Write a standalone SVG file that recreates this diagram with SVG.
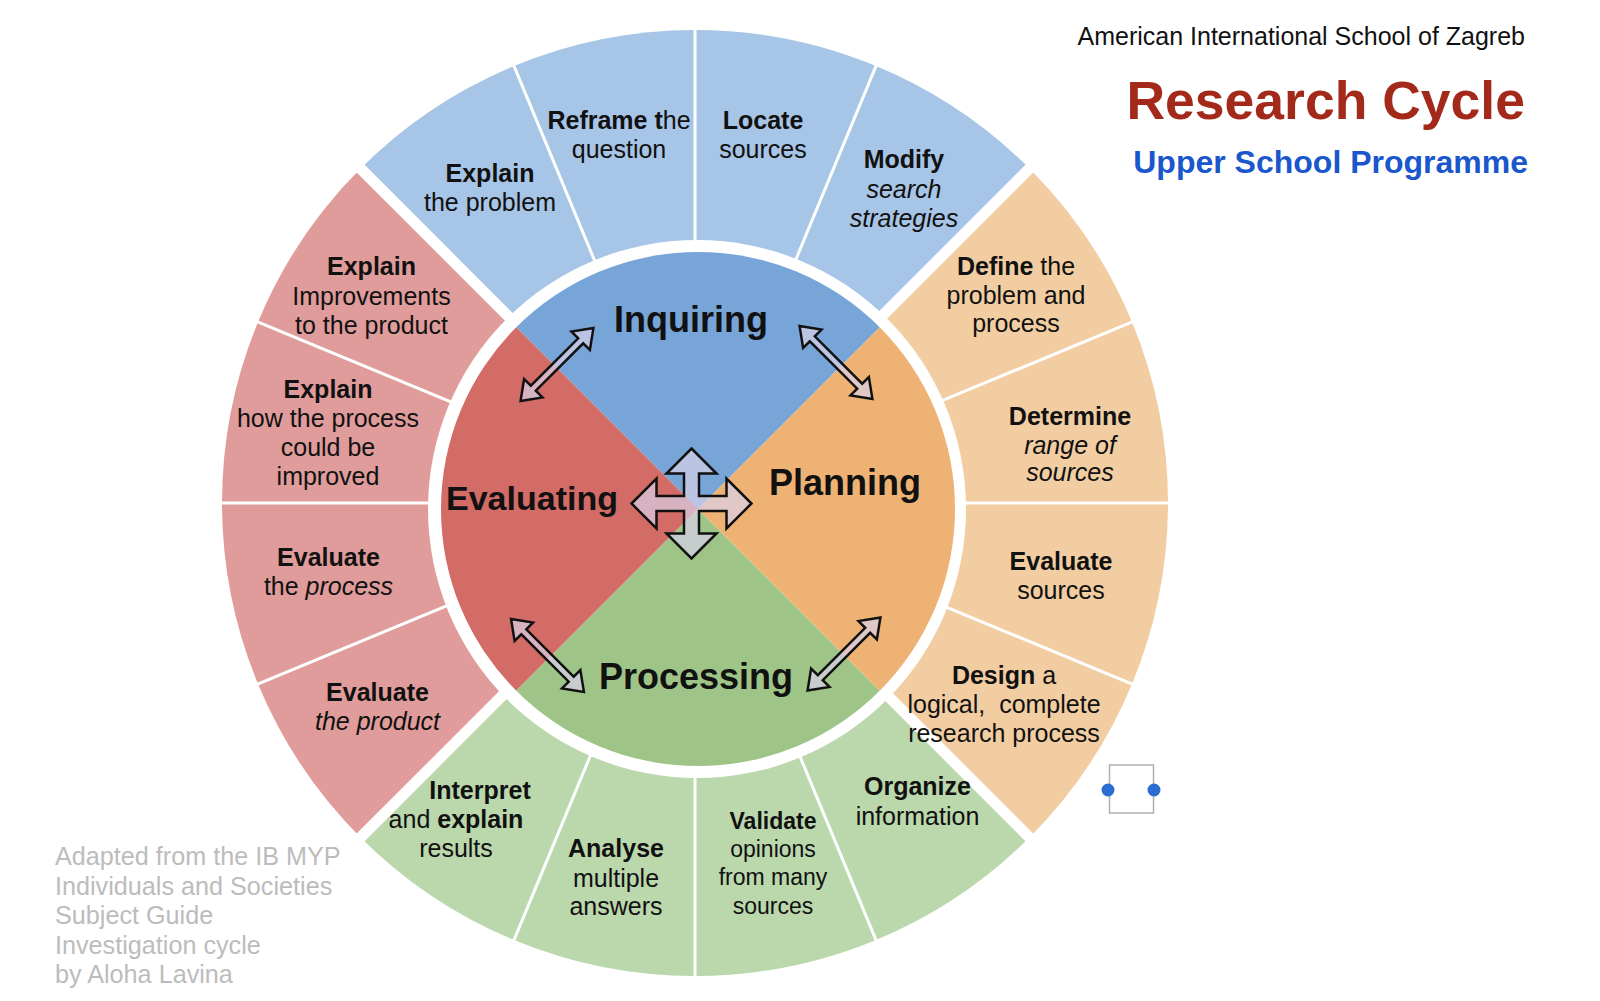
<svg xmlns="http://www.w3.org/2000/svg" width="1600" height="1001" viewBox="0 0 1600 1001">
<style>
.t{font-family:"Liberation Sans",Arial,Helvetica,sans-serif;font-size:25px;fill:#111;text-anchor:middle}
.b{font-weight:bold}
.i{font-style:italic}
.q{font-family:"Liberation Sans",Arial,Helvetica,sans-serif;font-size:36px;font-weight:bold;fill:#111;text-anchor:middle}
.g{font-family:"Liberation Sans",Arial,Helvetica,sans-serif;font-size:25.2px;fill:#bcbcbc}
.ob{fill:#a7c5e6}.or{fill:#e09c9b}.oo{fill:#f2cda2}.og{fill:#bbd7ac}
.ib{fill:#78a5d8}.ir{fill:#d36b66}.io{fill:#eeb274}.ig{fill:#9fc487}
.arr{fill:#d9d2e9;fill-opacity:.7;stroke:#111;stroke-width:2.5;stroke-linejoin:miter}
</style>
<defs>
<mask id="ringMask" maskUnits="userSpaceOnUse" x="0" y="0" width="1600" height="1001">
<rect width="1600" height="1001" fill="#fff"/>
<g stroke="#000" stroke-width="11">
<line x1="352" y1="846" x2="1038" y2="160"/>
<line x1="352" y1="160" x2="1038" y2="846"/>
</g>
<g stroke="#000" stroke-width="3">
<line x1="210" y1="503" x2="1180" y2="503"/>
<line x1="695" y1="18" x2="695" y2="988"/>
<line x1="1143.1" y1="317.4" x2="246.9" y2="688.6"/>
<line x1="880.6" y1="54.9" x2="509.4" y2="951.1"/>
<line x1="509.4" y1="54.9" x2="880.6" y2="951.1"/>
<line x1="246.9" y1="317.4" x2="1143.1" y2="688.6"/>
</g>
<circle cx="697" cy="509" r="269" fill="#000"/>
</mask>
<path id="dbl" d="M-51.5 0 L-33.5 -13 L-33.5 -3.5 L33.5 -3.5 L33.5 -13 L51.5 0 L33.5 13 L33.5 3.5 L-33.5 3.5 L-33.5 13 Z"/>
</defs>
<rect width="1600" height="1001" fill="#fff"/>

<g id="title">
<text x="1525" y="44.5" style="font-family:'Liberation Sans',Arial,sans-serif;font-size:25px;fill:#111;text-anchor:end">American International School of Zagreb</text>
<text x="1525" y="119" style="font-family:'Liberation Sans',Arial,sans-serif;font-size:53.5px;font-weight:bold;fill:#a3291a;text-anchor:end">Research Cycle</text>
<text x="1528" y="172.5" style="font-family:'Liberation Sans',Arial,sans-serif;font-size:32px;font-weight:bold;fill:#1a56cc;text-anchor:end">Upper School Programme</text>
</g>

<g id="credit">
<text class="g" x="55" y="865">Adapted from the IB MYP</text>
<text class="g" x="55" y="894.5">Individuals and Societies</text>
<text class="g" x="55" y="924">Subject Guide</text>
<text class="g" x="55" y="953.5">Investigation cycle</text>
<text class="g" x="55" y="983">by Aloha Lavina</text>
</g>

<!-- Inquiring outer segments -->
<g id="seg-modify">
<path class="ob" mask="url(#ringMask)" d="M695 503 L1029.46 168.54 A473 473 0 0 0 876.01 66.01 Z"/>
<text class="t"><tspan class="b" x="904" y="168">Modify</tspan><tspan class="i" x="904" y="197.5">search</tspan><tspan class="i" x="904" y="226.5">strategies</tspan></text>
</g>
<g id="seg-locate">
<path class="ob" mask="url(#ringMask)" d="M695 503 L876.01 66.01 A473 473 0 0 0 695 30 Z"/>
<text class="t"><tspan class="b" x="763" y="128.5">Locate</tspan><tspan x="763" y="158">sources</tspan></text>
</g>
<g id="seg-reframe">
<path class="ob" mask="url(#ringMask)" d="M695 503 L695 30 A473 473 0 0 0 513.99 66.01 Z"/>
<text class="t"><tspan x="619" y="128.5"><tspan class="b">Reframe t</tspan>he</tspan><tspan x="619" y="158">question</tspan></text>
</g>
<g id="seg-explain-problem">
<path class="ob" mask="url(#ringMask)" d="M695 503 L513.99 66.01 A473 473 0 0 0 360.54 168.54 Z"/>
<text class="t"><tspan class="b" x="490" y="181.5">Explain</tspan><tspan x="490" y="210.5">the problem</tspan></text>
</g>

<!-- Evaluating outer segments -->
<g id="seg-explain-improvements">
<path class="or" mask="url(#ringMask)" d="M695 503 L360.54 168.54 A473 473 0 0 0 258.01 321.99 Z"/>
<text class="t"><tspan class="b" x="371.5" y="275">Explain</tspan><tspan x="371.5" y="304.5">Improvements</tspan><tspan x="371.5" y="334">to the product</tspan></text>
</g>
<g id="seg-explain-process">
<path class="or" mask="url(#ringMask)" d="M695 503 L258.01 321.99 A473 473 0 0 0 222 503 Z"/>
<text class="t"><tspan class="b" x="328" y="397.5">Explain</tspan><tspan x="328" y="426.5">how the process</tspan><tspan x="328" y="456">could be</tspan><tspan x="328" y="485">improved</tspan></text>
</g>
<g id="seg-evaluate-process">
<path class="or" mask="url(#ringMask)" d="M695 503 L222 503 A473 473 0 0 0 258.01 684.01 Z"/>
<text class="t"><tspan class="b" x="328.5" y="565.5">Evaluate</tspan><tspan x="328.5" y="594.5">the <tspan class="i">process</tspan></tspan></text>
</g>
<g id="seg-evaluate-product">
<path class="or" mask="url(#ringMask)" d="M695 503 L258.01 684.01 A473 473 0 0 0 360.54 837.46 Z"/>
<text class="t"><tspan class="b" x="377.5" y="700.5">Evaluate</tspan><tspan class="i" x="377.5" y="729.5">the product</tspan></text>
</g>

<!-- Processing outer segments -->
<g id="seg-interpret">
<path class="og" mask="url(#ringMask)" d="M695 503 L360.54 837.46 A473 473 0 0 0 513.99 939.99 Z"/>
<text class="t"><tspan class="b" x="480" y="798.5">Interpret</tspan><tspan x="456" y="828">and <tspan class="b">explain</tspan></tspan><tspan x="456" y="857">results</tspan></text>
</g>
<g id="seg-analyse">
<path class="og" mask="url(#ringMask)" d="M695 503 L513.99 939.99 A473 473 0 0 0 695 976 Z"/>
<text class="t"><tspan class="b" x="616" y="857">Analyse</tspan><tspan x="616" y="886.5">multiple</tspan><tspan x="616" y="915">answers</tspan></text>
</g>
<g id="seg-validate">
<path class="og" mask="url(#ringMask)" d="M695 503 L695 976 A473 473 0 0 0 876.01 939.99 Z"/>
<text class="t" style="font-size:23px"><tspan class="b" x="773" y="828.5">Validate</tspan><tspan x="773" y="857">opinions</tspan><tspan x="773" y="885">from many</tspan><tspan x="773" y="913.5">sources</tspan></text>
</g>
<g id="seg-organize">
<path class="og" mask="url(#ringMask)" d="M695 503 L876.01 939.99 A473 473 0 0 0 1029.46 837.46 Z"/>
<text class="t"><tspan class="b" x="917.5" y="795">Organize</tspan><tspan x="917.5" y="825">information</tspan></text>
</g>

<!-- Planning outer segments -->
<g id="seg-design">
<path class="oo" mask="url(#ringMask)" d="M695 503 L1029.46 837.46 A473 473 0 0 0 1131.99 684.01 Z"/>
<text class="t" xml:space="preserve"><tspan x="1004" y="683.5"><tspan class="b">Design</tspan> a</tspan><tspan x="1004" y="713">logical,  complete</tspan><tspan x="1004" y="742">research process</tspan></text>
</g>
<g id="seg-evaluate-sources">
<path class="oo" mask="url(#ringMask)" d="M695 503 L1131.99 684.01 A473 473 0 0 0 1168 503 Z"/>
<text class="t"><tspan class="b" x="1061" y="569.5">Evaluate</tspan><tspan x="1061" y="598.5">sources</tspan></text>
</g>
<g id="seg-determine">
<path class="oo" mask="url(#ringMask)" d="M695 503 L1168 503 A473 473 0 0 0 1131.99 321.99 Z"/>
<text class="t"><tspan class="b" x="1070" y="425">Determine</tspan><tspan class="i" x="1070" y="453.5">range of</tspan><tspan class="i" x="1070" y="481">sources</tspan></text>
</g>
<g id="seg-define">
<path class="oo" mask="url(#ringMask)" d="M695 503 L1131.99 321.99 A473 473 0 0 0 1029.46 168.54 Z"/>
<text class="t"><tspan x="1016" y="275"><tspan class="b">Define</tspan> the</tspan><tspan x="1016" y="303.5">problem and</tspan><tspan x="1016" y="332">process</tspan></text>
</g>

<!-- inner quadrants -->
<g id="q-inquiring">
<path class="ib" d="M698 509 L879.73 327.27 A257 257 0 0 0 516.27 327.27 Z"/>
<text class="q" x="691" y="332">Inquiring</text>
</g>
<g id="q-evaluating">
<path class="ir" d="M698 509 L516.27 327.27 A257 257 0 0 0 516.27 690.73 Z"/>
<text class="q" x="532" y="510" style="font-size:34px">Evaluating</text>
</g>
<g id="q-processing">
<path class="ig" d="M698 509 L516.27 690.73 A257 257 0 0 0 879.73 690.73 Z"/>
<text class="q" x="696" y="689">Processing</text>
</g>
<g id="q-planning">
<path class="io" d="M698 509 L879.73 690.73 A257 257 0 0 0 879.73 327.27 Z"/>
<text class="q" x="845" y="495">Planning</text>
</g>

<g id="connectors">
<use href="#dbl" class="arr" transform="translate(557 364.5) rotate(-45)"/>
<use href="#dbl" class="arr" transform="translate(836 362.5) rotate(45)"/>
<use href="#dbl" class="arr" transform="translate(547.5 655.5) rotate(45)"/>
<use href="#dbl" class="arr" transform="translate(844 654) rotate(-45)"/>
<path class="arr" d="M691.5 448.5 L716.5 473.5 L699 473.5 L699 496 L726.5 496 L726.5 478.5 L751.5 503.5 L726.5 528.5 L726.5 511 L699 511 L699 533.5 L716.5 533.5 L691.5 558.5 L666.5 533.5 L684 533.5 L684 511 L656.5 511 L656.5 528.5 L631.5 503.5 L656.5 478.5 L656.5 496 L684 496 L684 473.5 L666.5 473.5 Z"/>
</g>

<g id="selection">
<rect x="1109.5" y="765" width="44" height="48" fill="#fff" stroke="#b0b0b0" stroke-width="1.5"/>
<circle cx="1108" cy="790" r="6.5" fill="#2b6dd2"/>
<circle cx="1154" cy="790" r="6.5" fill="#2b6dd2"/>
</g>
</svg>
